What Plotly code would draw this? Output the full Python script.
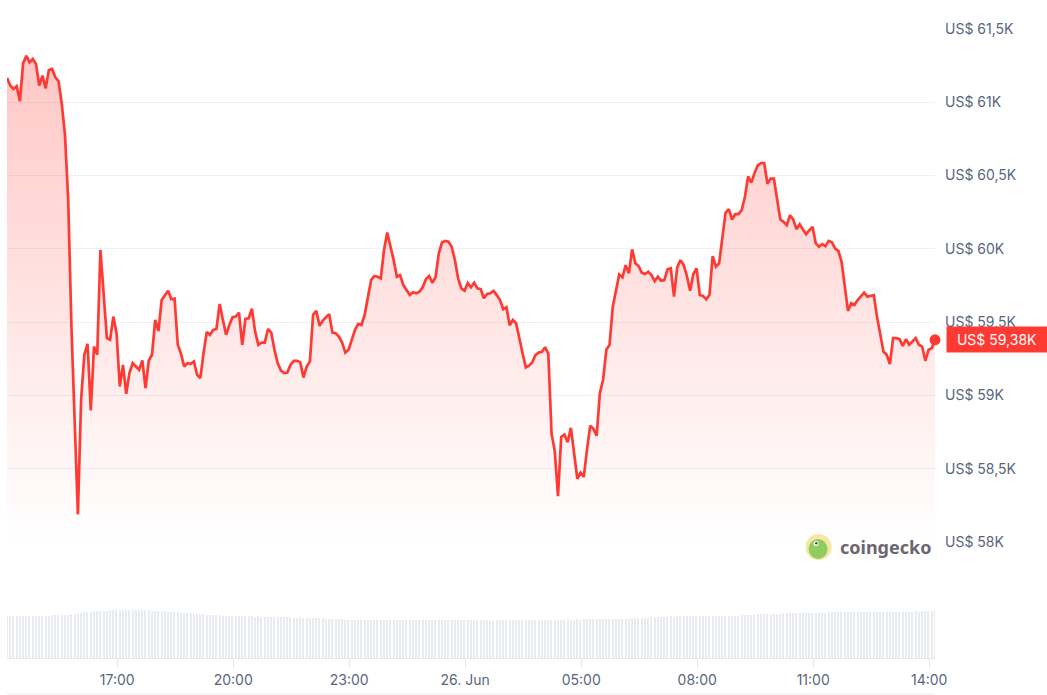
import plotly.graph_objects as go
import pandas as pd

# ---------------- data ----------------
start_time = "2024-06-25 14:09"   # first 5-minute sample

# BTC price in USD, one value every 5 minutes (each row = 1 hour)
price_usd = [
    61165, 61113, 61090, 61108, 61006, 61264, 61316, 61271, 61294, 61260, 61113, 61181,
    61094, 61219, 61226, 61169, 61142, 60988, 60773, 60331, 59468, 58815, 58190, 58972,
    59278, 59352, 58899, 59334, 59278, 59991, 59697, 59391, 59380, 59538, 59425, 59062,
    59209, 59012, 59153, 59221, 59198, 59176, 59239, 59051, 59239, 59278, 59515, 59440,
    59651, 59679, 59715, 59656, 59660, 59346, 59284, 59198, 59221, 59216, 59232, 59142,
    59119, 59289, 59434, 59414, 59448, 59454, 59624, 59515, 59414, 59481, 59534, 59538,
    59565, 59346, 59522, 59527, 59592, 59436, 59346, 59361, 59361, 59454, 59429, 59312,
    59221, 59171, 59153, 59157, 59210, 59237, 59237, 59228, 59123, 59198, 59232, 59550,
    59577, 59475, 59511, 59534, 59554, 59429, 59425, 59402, 59361, 59293, 59312, 59380,
    59448, 59488, 59481, 59550, 59674, 59787, 59815, 59810, 59799, 59991, 60111, 60025,
    59923, 59810, 59821, 59753, 59719, 59685, 59704, 59697, 59708, 59738, 59792, 59815,
    59769, 59806, 59969, 60043, 60054, 60048, 60014, 59923, 59799, 59731, 59715, 59767,
    59738, 59769, 59731, 59726, 59663, 59692, 59697, 59713, 59685, 59651, 59588, 59602,
    59479, 59515, 59493, 59402, 59289, 59191, 59203, 59225, 59276, 59293, 59298, 59330,
    59284, 58740, 58620, 58315, 58718, 58734, 58682, 58780, 58586, 58433, 58474, 58446,
    58632, 58795, 58773, 58727, 59017, 59108, 59312, 59346, 59606, 59719, 59825, 59806,
    59889, 59833, 59996, 59901, 59883, 59837, 59828, 59844, 59821, 59780, 59810, 59783,
    59787, 59860, 59867, 59674, 59873, 59923, 59889, 59815, 59715, 59828, 59867, 59685,
    59679, 59656, 59685, 59950, 59878, 59901, 60093, 60245, 60270, 60200, 60236, 60236,
    60263, 60353, 60494, 60451, 60517, 60569, 60585, 60585, 60444, 60478, 60478, 60340,
    60200, 60184, 60161, 60229, 60200, 60134, 60168, 60132, 60100, 60127, 60150, 60037,
    60014, 60032, 60018, 60054, 60045, 60002, 59986, 59912, 59760, 59577, 59629, 59617,
    59651, 59679, 59701, 59674, 59679, 59685, 59538, 59425, 59300, 59278, 59214, 59391,
    59391, 59384, 59339, 59384, 59346, 59368, 59391, 59346, 59334, 59237, 59312, 59323,
    59380,
]

# relative trading volume (bar heights), one value every 5 minutes
volume_rel = [
    41.7, 41.5, 41.7, 41.4, 41.7, 41.6, 41.5, 41.7, 41.6, 41.8, 41.7, 41.9,
    42.0, 42.3, 42.5, 42.8, 43.0, 43.0, 42.7, 43.2, 43.6, 44.0, 44.5, 45.0,
    45.5, 45.9, 46.2, 46.5, 46.8, 47.0, 47.2, 47.3, 47.4, 47.5, 47.6, 47.6,
    47.7, 47.6, 47.7, 47.8, 47.6, 47.7, 47.5, 47.6, 47.4, 47.3, 47.1, 47.0,
    46.8, 46.5, 46.3, 46.0, 45.8, 45.5, 45.2, 45.0, 44.8, 44.6, 44.3, 44.1,
    43.9, 43.6, 43.3, 43.1, 42.8, 42.6, 42.4, 42.2, 42.0, 41.9, 41.8, 41.7,
    41.6, 41.5, 41.6, 41.4, 41.5, 41.3, 41.4, 41.2, 41.3, 41.1, 41.0, 41.0,
    40.9, 40.8, 40.6, 40.6, 40.4, 40.3, 40.2, 40.4, 40.1, 40.0, 40.2, 39.9,
    39.8, 39.7, 39.5, 39.3, 39.2, 39.0, 38.8, 38.6, 38.5, 38.3, 38.3, 38.2,
    38.0, 38.1, 37.9, 38.2, 38.0, 37.8, 38.1, 37.9, 37.8, 38.0, 37.7, 37.9,
    38.0, 37.8, 37.9, 38.1, 38.0, 37.7, 37.9, 38.0, 37.8, 37.6, 37.9, 37.8,
    37.7, 37.9, 37.6, 37.8, 37.7, 37.5, 37.8, 37.6, 37.7, 37.5, 37.6, 37.8,
    37.6, 37.4, 37.7, 37.5, 37.6, 37.4, 37.5, 37.3, 37.6, 37.5, 37.7, 37.6,
    37.8, 37.6, 37.9, 37.7, 37.8, 37.6, 37.8, 38.0, 37.7, 37.6, 37.9, 37.8,
    38.0, 37.9, 38.1, 38.3, 38.0, 38.2, 38.4, 38.1, 38.3, 38.5, 38.2, 38.4,
    38.6, 38.4, 38.5, 38.7, 38.6, 38.8, 38.7, 38.9, 39.0, 38.8, 39.1, 39.2,
    39.3, 39.2, 39.5, 39.7, 39.6, 39.9, 40.1, 40.3, 40.5, 40.6, 40.8, 41.0,
    41.1, 41.2, 41.4, 41.3, 41.5, 41.6, 41.4, 41.6, 41.7, 41.5, 41.7, 41.6,
    41.7, 41.6, 41.8, 41.6, 41.7, 41.9, 41.8, 42.0, 41.9, 42.1, 42.2, 42.3,
    42.5, 42.7, 42.9, 43.1, 43.3, 43.5, 43.6, 43.8, 43.9, 44.0, 44.1, 44.2,
    44.3, 44.4, 44.5, 44.4, 44.6, 44.5, 44.7, 44.6, 44.8, 44.9, 45.0, 45.1,
    45.2, 45.3, 45.2, 45.4, 45.5, 45.4, 45.6, 45.5, 45.7, 45.6, 45.8, 45.7,
    45.8, 45.6, 45.7, 45.9, 45.8, 45.7, 45.9, 45.8, 46.0, 45.9, 46.1, 46.0,
    46.1, 46.0, 46.2, 46.1, 46.3, 46.2, 46.4, 46.3, 46.5, 46.6, 46.5, 46.8,
    46.9,
]

x_tick_vals = ["2024-06-25 17:00", "2024-06-25 20:00", "2024-06-25 23:00",
               "2024-06-26 02:00", "2024-06-26 05:00", "2024-06-26 08:00",
               "2024-06-26 11:00", "2024-06-26 14:00"]
x_tick_text = ["17:00", "20:00", "23:00", "26. Jun", "05:00", "08:00", "11:00", "14:00"]

y_tick_vals = [58000, 58500, 59000, 59500, 60000, 60500, 61000, 61500]
y_tick_text = ["US$ 58K", "US$ 58,5K", "US$ 59K", "US$ 59,5K",
               "US$ 60K", "US$ 60,5K", "US$ 61K", "US$ 61,5K"]

last_price_label = "US$ 59,38K"
brand_name = "coingecko"

# ---------------- styling ----------------
RED = "#ff3a33"
LABEL = "#58667e"
GRID = "rgb(239,241,244)"
AXIS = "rgb(229,232,237)"
FONT = "Inter"

times = pd.date_range(start_time, periods=len(price_usd), freq="5min")

fig = go.Figure()

fig.add_trace(go.Bar(
    x=times, y=volume_rel, yaxis="y2",
    marker=dict(color="rgb(232,235,240)", line=dict(width=0)),
    width=110000, hoverinfo="skip",
))

fig.add_trace(go.Scatter(
    x=times, y=price_usd, mode="lines",
    line=dict(color=RED, width=2.7),
    fill="tozeroy",
    fillgradient=dict(
        type="vertical",
        colorscale=[[0, "rgba(255,58,51,0)"], [1, "rgba(255,58,51,0.28)"]],
        start=58000, stop=61300,
    ),
))

fig.add_trace(go.Scatter(
    x=[times[-1]], y=[price_usd[-1]], mode="markers",
    marker=dict(size=11, color=RED), cliponaxis=False,
))

fig.update_layout(
    width=1047, height=695,
    margin=dict(l=7, r=112, t=28, b=37),
    paper_bgcolor="white", plot_bgcolor="white",
    showlegend=False,
    font=dict(family=FONT, size=14, color=LABEL),
    xaxis=dict(
        range=[times[0], times[-1]], anchor="y2",
        showgrid=False, zeroline=False,
        showline=True, linecolor=AXIS, linewidth=1,
        ticks="outside", ticklen=9, tickcolor=AXIS, tickwidth=1,
        tickvals=x_tick_vals, ticktext=x_tick_text,
        tickfont=dict(family=FONT, size=14, color=LABEL),
    ),
    yaxis=dict(
        domain=[0.1825, 1], range=[57995, 61505], side="right",
        tickvals=y_tick_vals, ticktext=y_tick_text,
        showgrid=True, gridcolor=GRID, gridwidth=1,
        zeroline=False, showline=False, ticks="",
        ticklabelstandoff=9,
        tickfont=dict(family=FONT, size=14, color=LABEL),
    ),
    yaxis2=dict(domain=[0, 0.16], range=[0, 100.8], visible=False),
    bargap=0,
)

# last price badge
fig.add_annotation(
    xref="paper", x=1, xanchor="left", xshift=11,
    yref="y", y=price_usd[-1], yanchor="middle",
    text=last_price_label, showarrow=False,
    font=dict(family=FONT, size=14, color="white"),
    bgcolor=RED, borderpad=4, width=92, height=17, align="center",
)

# bottom separator line
fig.add_shape(type="line", xref="paper", yref="paper",
              x0=0, x1=1, y0=-0.0571, y1=-0.0571,
              line=dict(color="rgb(236,238,241)", width=1))

# coingecko watermark (icon + word)
icon_x, icon_y = 0.8745, 0.1762
fig.add_shape(type="circle", xref="paper", yref="paper",
              xsizemode="pixel", ysizemode="pixel", xanchor=icon_x, yanchor=icon_y,
              x0=-13, x1=13, y0=-13, y1=13,
              fillcolor="#f7e6a4", line=dict(width=0))
fig.add_shape(type="circle", xref="paper", yref="paper",
              xsizemode="pixel", ysizemode="pixel", xanchor=icon_x, yanchor=icon_y,
              x0=-10, x1=9, y0=-12, y1=8,
              fillcolor="#8fce5e", line=dict(width=0))
fig.add_shape(type="circle", xref="paper", yref="paper",
              xsizemode="pixel", ysizemode="pixel", xanchor=icon_x, yanchor=icon_y,
              x0=-5, x1=0, y0=1, y1=6,
              fillcolor="white", line=dict(width=0))
fig.add_shape(type="circle", xref="paper", yref="paper",
              xsizemode="pixel", ysizemode="pixel", xanchor=icon_x, yanchor=icon_y,
              x0=-3.5, x1=-1, y0=2.5, y1=5,
              fillcolor="#444444", line=dict(width=0))
fig.add_annotation(
    xref="paper", yref="paper", x=0.896, y=icon_y,
    xanchor="left", yanchor="middle", showarrow=False,
    text="<b>" + brand_name + "</b>",
    font=dict(family="Noto Sans", size=18, color="#6c6670"),
)

fig.write_html("out.html", config={"displayModeBar": False},
               post_script="document.body.style.margin='0';")
